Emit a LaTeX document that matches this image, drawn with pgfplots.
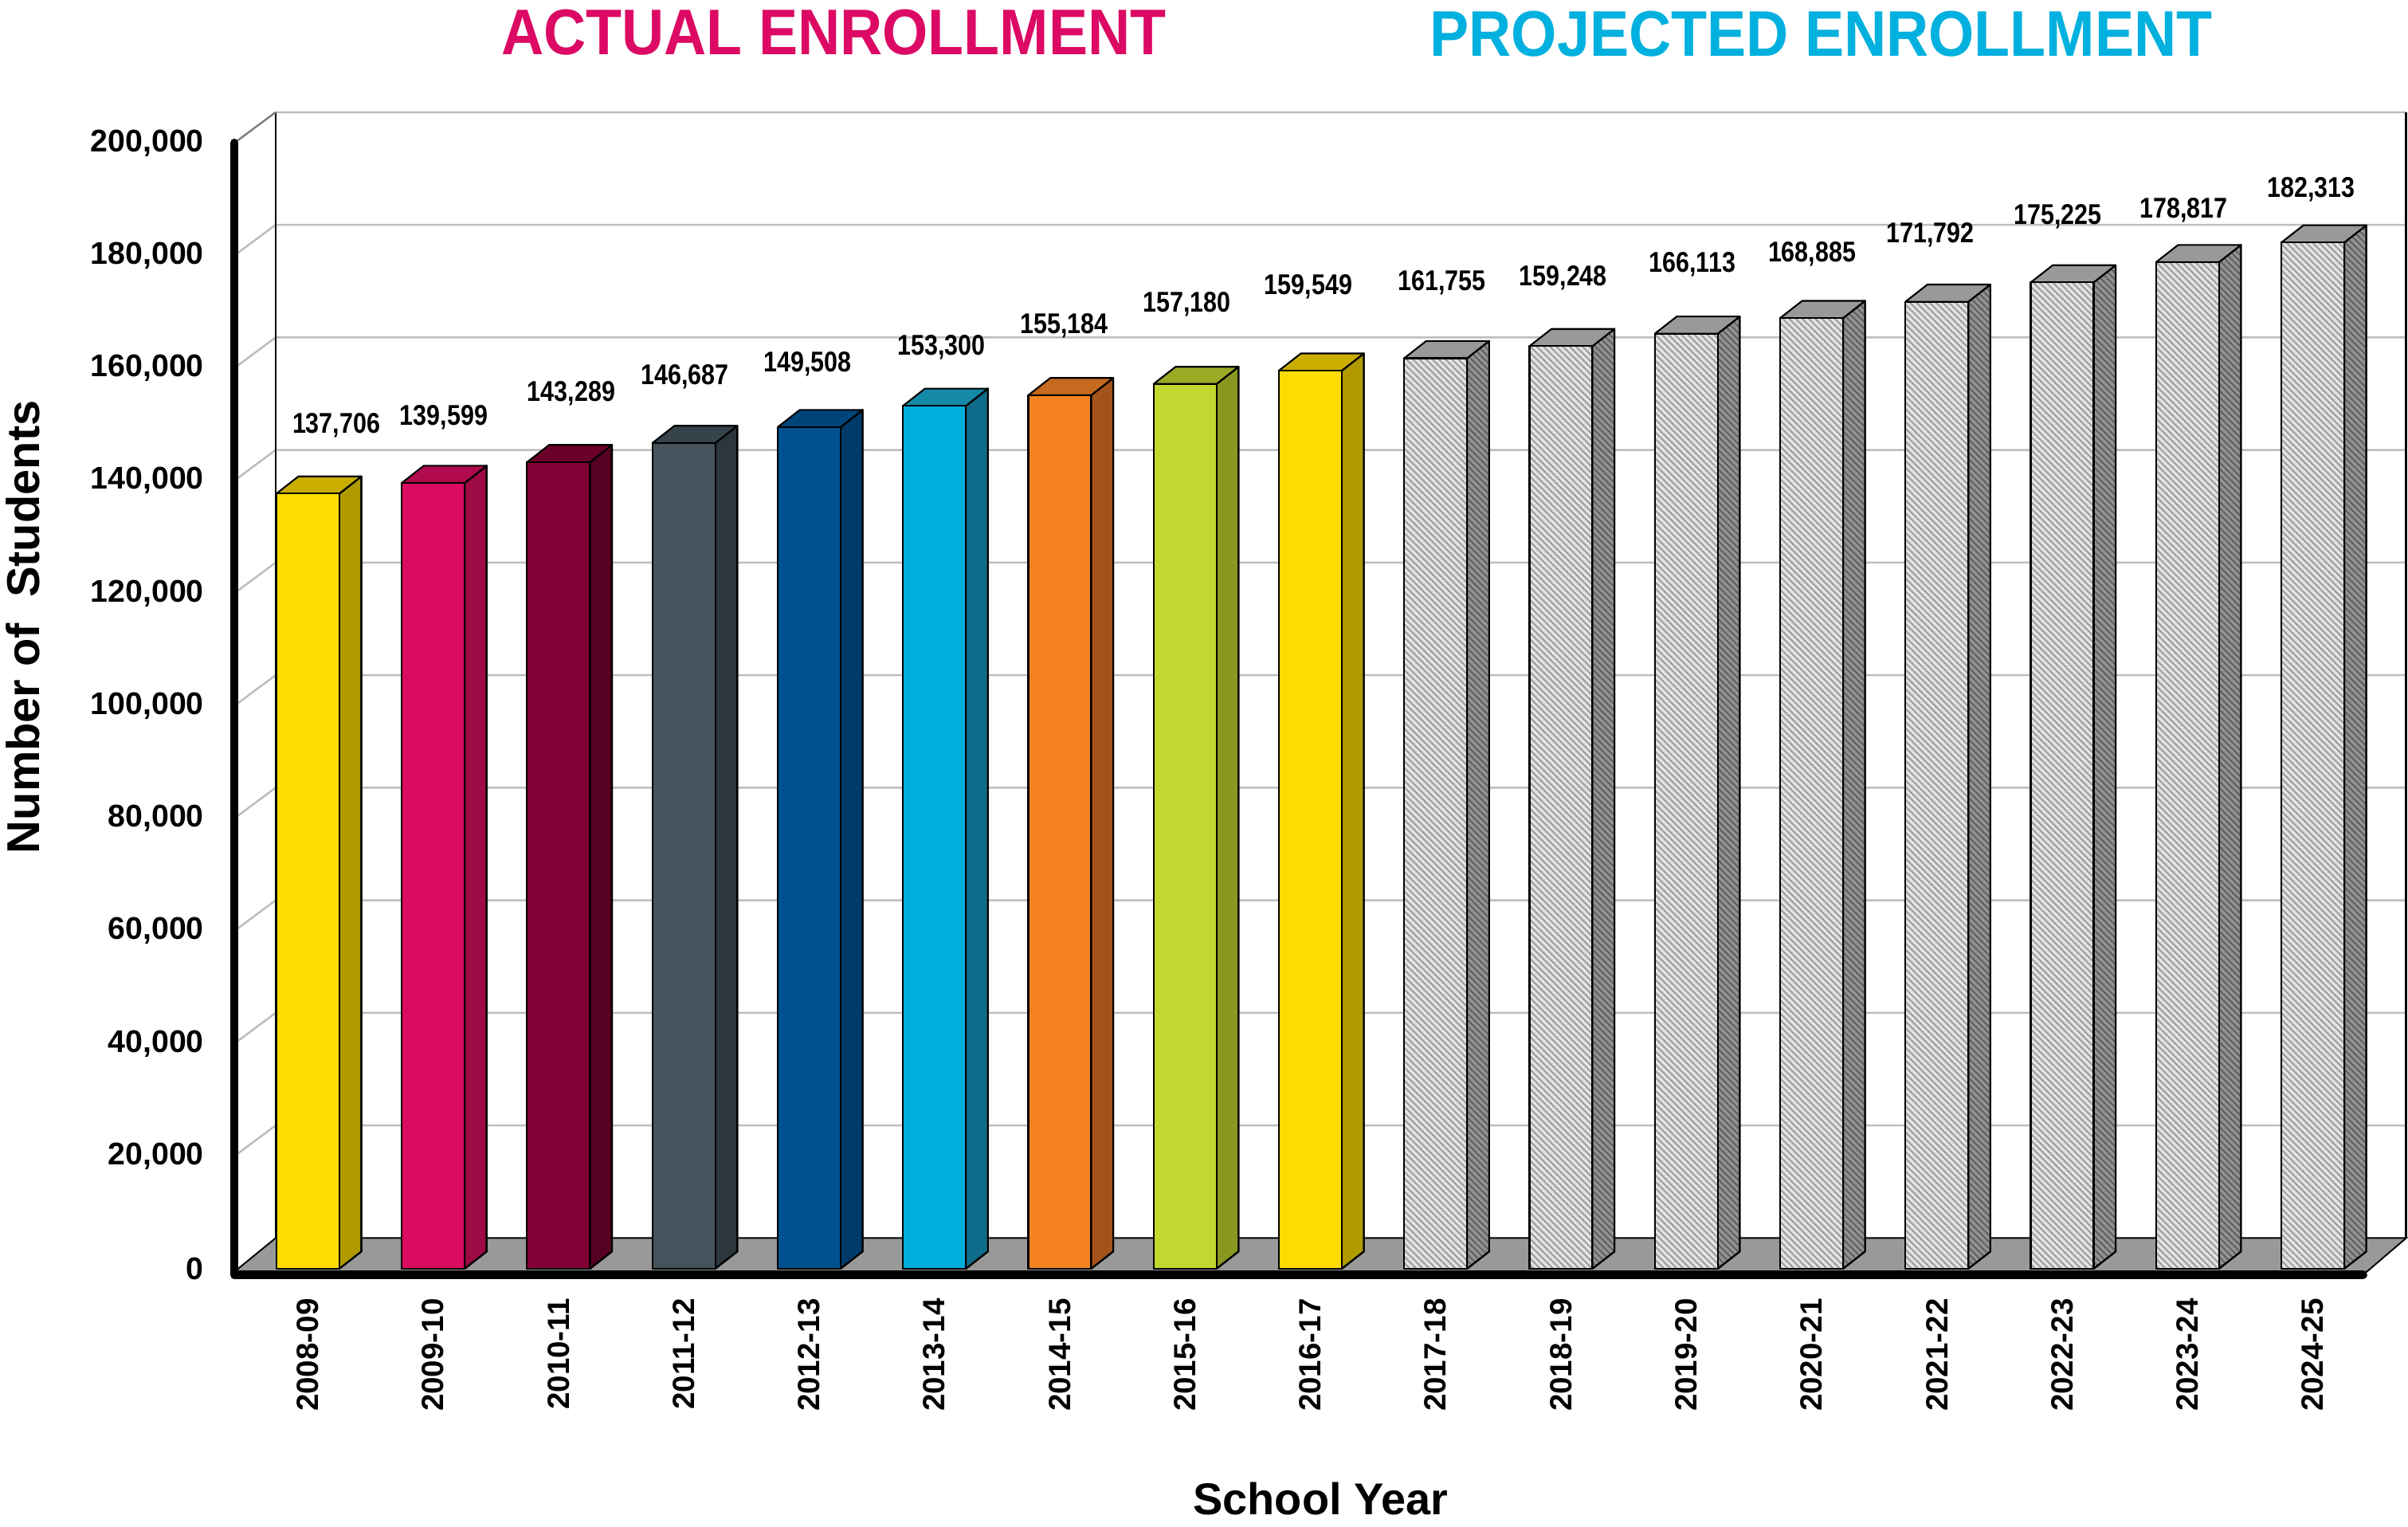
\documentclass[border=0pt]{standalone}
\usepackage{pgfplots}
\pgfplotsset{compat=1.18}
\usepackage{pgfplotstable}
\usepackage{fontspec}
\setmainfont{Liberation Sans}
\newfontfamily\narrowfont[FakeStretch=0.85]{Liberation Sans}
\newfontfamily\titlefont[FakeStretch=0.91]{Liberation Sans}
\usetikzlibrary{patterns.meta}

\definecolor{actualc}{HTML}{DC0A64}
\definecolor{projc}{HTML}{00B0DE}
\definecolor{gridc}{HTML}{BDBDBD}
\definecolor{floorc}{HTML}{999999}
% actual bars: front / side / top
\definecolor{f0}{HTML}{FFDC00}\definecolor{s0}{HTML}{B09A00}\definecolor{t0}{HTML}{C9AE00}
\definecolor{f1}{HTML}{DC0B61}\definecolor{s1}{HTML}{9E0A45}\definecolor{t1}{HTML}{B20A4E}
\definecolor{f2}{HTML}{820034}\definecolor{s2}{HTML}{560022}\definecolor{t2}{HTML}{6A002A}
\definecolor{f3}{HTML}{45535D}\definecolor{s3}{HTML}{2C363D}\definecolor{t3}{HTML}{37434B}
\definecolor{f4}{HTML}{00518F}\definecolor{s4}{HTML}{003A68}\definecolor{t4}{HTML}{00457A}
\definecolor{f5}{HTML}{00AEDC}\definecolor{s5}{HTML}{0E6C8A}\definecolor{t5}{HTML}{1589A8}
\definecolor{f6}{HTML}{F58220}\definecolor{s6}{HTML}{A4541B}\definecolor{t6}{HTML}{C56A1E}
\definecolor{f7}{HTML}{C2D72F}\definecolor{s7}{HTML}{889820}\definecolor{t7}{HTML}{9CAA26}
\definecolor{f8}{HTML}{FFDC00}\definecolor{s8}{HTML}{B09A00}\definecolor{t8}{HTML}{C9AE00}
% projected bars
\definecolor{pF}{HTML}{E2E2E2}\definecolor{pFs}{HTML}{9A9A9A}
\definecolor{pS}{HTML}{929292}\definecolor{pSs}{HTML}{5E5E5E}
\definecolor{pT}{HTML}{999999}

\pgfplotsset{
  barline/.style={draw=black, line width=0.55pt, line join=round},
  projF/.style={barline, fill=pF},
  projS/.style={barline, fill=pS},
  projT/.style={barline, fill=pT},
  projFp/.style={draw=none, pattern={Lines[angle=-45,distance=1.5pt,line width=0.5pt]}, pattern color=pFs},
  projSp/.style={draw=none, pattern={Lines[angle=-45,distance=1.5pt,line width=0.5pt]}, pattern color=pSs},
  nopat/.style={draw=none},
  outl/.style={draw=black, line width=0.55pt, line join=round, fill=none},
  gridline/.style={gridc, line width=0.65pt},
}

\pgfplotstableread{
i v lab lx ly
0 137706 137,706 0.227 149800
1 139599 139,599 1.085 151200
2 143289 143,289 2.102 155500
3 146687 146,687 3.009 158500
4 149508 149,508 3.989 160700
5 153300 153,300 5.055 163700
6 155184 155,184 6.036 167500
7 157180 157,180 7.016 171400
8 159549 159,549 7.984 174400
9 161755 161,755 9.050 175200
10 163900 159,248 10.018 176000
11 166113 166,113 11.048 178400
12 168885 168,885 12.004 180300
13 171792 171,792 12.947 183600
14 175225 175,225 13.964 186900
15 178817 178,817 14.969 188000
16 182313 182,313 15.987 191800
}\enroll

\begin{document}
\begin{tikzpicture}
\begin{axis}[
  scale only axis, width=707.2pt, height=366.5pt,
  xmin=-0.587, xmax=16.746, ymin=0, ymax=200000,
  clip=false,
  axis line style={draw=none},
  major tick length=0pt,
  xtick={0,1,2,3,4,5,6,7,8,9,10,11,12,13,14,15,16},
  xticklabels={2008-09,2009-10,2010-11,2011-12,2012-13,2013-14,2014-15,2015-16,2016-17,2017-18,2018-19,2019-20,2020-21,2021-22,2022-23,2023-24,2024-25},
  xticklabel style={rotate=90, anchor=east, font=\bfseries\fontsize{10}{12}\selectfont},
  xticklabel shift=6.2pt,
  ytick={0,20000,40000,60000,80000,100000,120000,140000,160000,180000,200000},
  scaled y ticks=false,
  /pgf/number format/fixed,
  /pgf/number format/1000 sep={,},
  /pgf/number format/assume math mode=true,
  yticklabel style={font=\bfseries\fontsize{10.2}{12}\selectfont, xshift=-6.4pt},
]
% back wall gridlines and left side diagonals
\foreach \g in {20000,40000,60000,80000,100000,120000,140000,160000,180000,200000} {
  \edef\gb{\the\numexpr\g+5460\relax}
  \edef\tmp{\noexpand\addplot[gridline] coordinates {(-0.587,\g) (-0.257,\gb) (16.746,\gb)};}
  \tmp
}
% back wall edges
\addplot[black, line width=0.7pt] coordinates {(-0.257,5460) (-0.257,205460)};
\addplot[black, line width=0.7pt] coordinates {(16.746,5460) (16.746,205460)};
\addplot[gray, line width=0.6pt] coordinates {(-0.587,200000) (-0.257,205460)};
% floor
\addplot[fill=floorc, draw=black, line width=0.5pt] coordinates {(-0.587,-545) (16.43,-545) (16.746,5460) (-0.257,5460)} -- cycle;
% front thick axis lines
\addplot[black, line width=2.8pt, line join=round, line cap=round] coordinates {(-0.587,200000) (-0.587,-1090) (16.40,-1090)};

% bars (front, side and top faces from the table values)
\pgfplotsinvokeforeach{0,1,2,3,4,5,6,7,8,9,10,11,12,13,14,15,16}{%
  \pgfplotstablegetelem{#1}{v}\of\enroll
  \edef\barv{\pgfplotsretval}%
  \edef\bart{\the\numexpr\barv+3060\relax}%
  \pgfmathsetmacro\xa{#1-0.251}%
  \pgfmathsetmacro\xb{#1+0.251}%
  \pgfmathsetmacro\xc{#1+0.427}%
  \pgfmathsetmacro\xd{#1-0.075}%
  \ifnum#1>8 \def\fs{projF}\def\ss{projS}\def\ts{projT}\def\fp{projFp}\def\sp{projSp}%
  \else \def\fs{barline,fill=f#1}\def\ss{barline,fill=s#1}\def\ts{barline,fill=t#1}\def\fp{nopat}\def\sp{nopat}\fi
  \edef\tmp{%
    \noexpand\addplot[\ss] coordinates {(\xb,0) (\xc,3060) (\xc,\bart) (\xb,\barv)} -- cycle;%
    \noexpand\addplot[\sp] coordinates {(\xb,0) (\xc,3060) (\xc,\bart) (\xb,\barv)} -- cycle;%
    \noexpand\addplot[outl] coordinates {(\xb,0) (\xc,3060) (\xc,\bart) (\xb,\barv)} -- cycle;%
    \noexpand\addplot[\ts] coordinates {(\xa,\barv) (\xb,\barv) (\xc,\bart) (\xd,\bart)} -- cycle;%
    \noexpand\addplot[\fs] coordinates {(\xa,0) (\xb,0) (\xb,\barv) (\xa,\barv)} -- cycle;%
    \noexpand\addplot[\fp] coordinates {(\xa,0) (\xb,0) (\xb,\barv) (\xa,\barv)} -- cycle;%
    \noexpand\addplot[outl] coordinates {(\xa,0) (\xb,0) (\xb,\barv) (\xa,\barv)} -- cycle;%
  }\tmp
}

% value labels
\addplot[draw=none, mark=none, nodes near coords, point meta=explicit symbolic,
  nodes near coords style={anchor=center, inner sep=0pt, text=black,
    font={\narrowfont\bfseries\fontsize{9.3}{11}\selectfont}}]
  table[x=lx, y=ly, meta=lab] {\enroll};

% titles
\node[text=actualc, inner sep=0pt, font={\titlefont\bfseries\fontsize{21}{25}\selectfont}] at (axis cs:4.197,219600) {ACTUAL ENROLLMENT};
\node[text=projc, inner sep=0pt, font={\titlefont\bfseries\fontsize{21}{25}\selectfont}] at (axis cs:12.077,219400) {PROJECTED ENROLLMENT};
\node[rotate=90, inner sep=0pt, font={\bfseries\fontsize{15}{18}\selectfont}] at (axis cs:-2.273,114000) {Number of\ \ Students};
\node[inner sep=0pt, font={\bfseries\fontsize{14.5}{17}\selectfont}] at (axis cs:8.082,-40900) {School Year};
\path (axis cs:-2.457,-45800) rectangle (axis cs:16.76,225400);
\end{axis}
\end{tikzpicture}
\end{document}
